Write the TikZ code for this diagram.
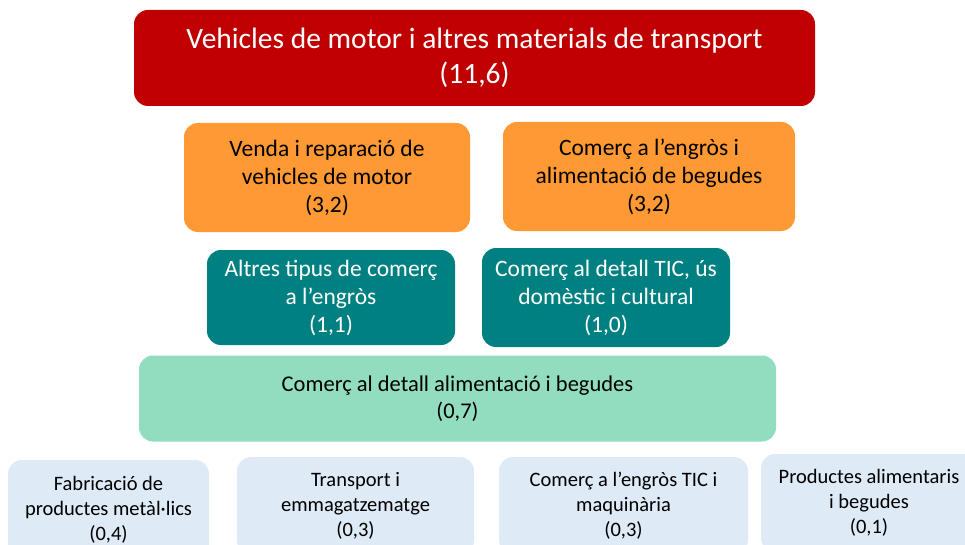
\documentclass[tikz,border=0pt]{standalone}
\usepackage{fontspec}
\setmainfont{Carlito}
\definecolor{cred}{RGB}{192,0,0}
\definecolor{corange}{RGB}{255,153,51}
\definecolor{cteal}{RGB}{0,128,128}
\definecolor{cmint}{RGB}{146,221,192}
\definecolor{cblue}{RGB}{222,234,246}
\begin{document}
\begin{tikzpicture}[x=1pt,y=-1pt,
  box/.style={rounded corners=14pt, inner sep=0pt, align=center, anchor=center},
  topbox/.style={box, fill=cred, text=white, font=\fontsize{29.5}{35}\selectfont},
  orbox/.style={box, fill=corange, text=black, font=\fontsize{23.5}{28}\selectfont},
  tlbox/.style={box, fill=cteal, text=white, font=\fontsize{23.5}{28}\selectfont},
  mtbox/.style={box, fill=cmint, text=black, font=\fontsize{22.5}{27}\selectfont},
  blbox/.style={box, fill=cblue, text=black, font=\fontsize{20.5}{25}\selectfont}]
\useasboundingbox (0,0) rectangle (965,545);
\clip (0,0) rectangle (965,545);
\node[topbox, minimum width=681pt, minimum height=96pt] (top) at (474.5,58) {Vehicles de motor i altres materials de transport\\(11,6)};
\node[orbox, minimum width=286pt, minimum height=109pt] (o1) at (327,177.5) {Venda i reparació de\\vehicles de motor\\(3,2)};
\node[orbox, minimum width=292pt, minimum height=109pt] (o2) at (649,176.5) {Comerç a l’engròs i\\alimentació de begudes\\(3,2)};
\node[tlbox, minimum width=248pt, minimum height=95pt] (t1) at (331,297.5) {Altres tipus de comerç\\a l’engròs\\(1,1)};
\node[tlbox, minimum width=248pt, minimum height=99pt] (t2) at (606,297.5) {Comerç al detall TIC, ús\\domèstic i cultural\\(1,0)};
\node[mtbox, minimum width=637pt, minimum height=86pt] (m) at (457.5,398.5) {Comerç al detall alimentació i begudes\\(0,7)};
\node[blbox, minimum width=201pt, minimum height=100pt] (b1) at (108.5,510) {Fabricació de\\productes metàl·lics\\(0,4)};
\node[blbox, minimum width=237pt, minimum height=97pt] (b2) at (355.5,505.5) {Transport i\\emmagatzematge\\(0,3)};
\node[blbox, minimum width=249pt, minimum height=97pt] (b3) at (623.5,505.5) {Comerç a l’engròs TIC i\\maquinària\\(0,3)};
\node[blbox, minimum width=216pt, minimum height=98pt] (b4) at (869,503) {Productes alimentaris\\i begudes\\(0,1)};
\end{tikzpicture}
\end{document}
